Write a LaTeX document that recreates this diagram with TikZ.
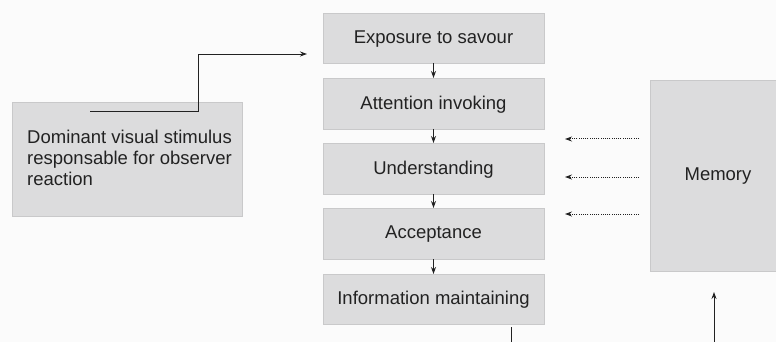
\documentclass[tikz,border=0pt]{standalone}
\usepackage{fontspec}
\setmainfont{Liberation Sans}
\usetikzlibrary{arrows.meta}
\definecolor{bg}{HTML}{FBFBFB}
\definecolor{boxfill}{HTML}{DCDCDD}
\definecolor{boxline}{HTML}{C9C9CA}
\definecolor{ink}{HTML}{222222}
\begin{document}
\begin{tikzpicture}[x=1pt,y=-1pt,
  box/.style={draw=boxline,fill=boxfill,line width=0.8pt},
  lbl/.style={font=\fontsize{18.5}{20.7}\selectfont,text=ink},
  conn/.style={draw=ink,line width=0.95pt},
  tip/.style={-{Stealth[length=7pt,width=5pt]}},
  dots/.style={draw=ink,line width=1pt,dash pattern=on 1pt off 1.2pt}]
\fill[bg] (0,0) rectangle (776,342);
\useasboundingbox (0,0) rectangle (776,342);
% left box
\path[box] (12,102.5) rectangle (242,216);
\node[lbl,anchor=north west,align=left,inner sep=0pt] (dom) at (27,130) {Dominant visual stimulus\\responsable for observer\\reaction};
\coordinate (ls) at (90,111);
% central column
\foreach \n/\t/\b/\txt in {e/13/63/Exposure to savour,a/78/129/Attention invoking,u/143/194/Understanding,c/208/259/Acceptance,i/274/324/Information maintaining}{
  \path[box] (323,\t) rectangle (544,\b);
  \coordinate (\n top) at (433.5,\t);
  \coordinate (\n bot) at (433.5,\b);
  \node[lbl] (\n) at (433.5,{(\t+\b)/2+1}) {\txt};
}
\coordinate (ein) at (307,54);
\draw[conn,tip] (ls) -- (198,111) -- (198,54) -- (ein);
\draw[conn,tip] (ebot) -- (atop);
\draw[conn,tip] (abot) -- (utop);
\draw[conn,tip] (ubot) -- (ctop);
\draw[conn,tip] (cbot) -- (itop);
% memory
\path[box] (650,80) rectangle (777,271);
\node[lbl] (mem) at (718,176.5) {Memory};
\foreach \y in {139,177,214}{
  \coordinate (ms\y) at (639,\y);
  \coordinate (me\y) at (565,\y);
  \draw[dots,tip] (ms\y) -- (me\y);
}
\coordinate (ib1) at (511,327);
\coordinate (ib2) at (511,342);
\draw[conn] (ib1) -- (ib2);
\coordinate (mu1) at (714,342);
\coordinate (mu2) at (714,292);
\draw[conn,tip] (mu1) -- (mu2);
\end{tikzpicture}
\end{document}
